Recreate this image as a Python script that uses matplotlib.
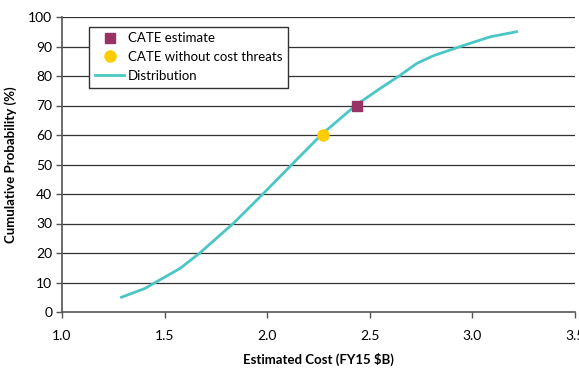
import matplotlib
matplotlib.use("Agg")
import matplotlib.pyplot as plt

# Distribution curve
cost = [1.29, 1.405, 1.462, 1.576, 1.673, 1.836, 1.982, 2.120, 2.267, 2.434,
        2.551, 2.649, 2.730, 2.811, 2.950, 3.088, 3.215]
prob = [5.0, 8.0, 10.3, 14.8, 20.1, 30.1, 40.2, 50.0, 60.3, 70.2,
        75.8, 80.3, 84.3, 86.9, 90.2, 93.3, 95.0]

cate_est = (2.44, 70)
cate_no_threats = (2.27, 60)

x_ticks = [1.0, 1.5, 2.0, 2.5, 3.0, 3.5]
y_ticks = list(range(0, 101, 10))

plt.rcParams["font.family"] = ["Lato", "DejaVu Sans"]

fig = plt.figure(figsize=(5.79, 3.68), dpi=100)
ax = fig.add_axes([62 / 579, 56 / 368, 513 / 579, 295 / 368])

for y in y_ticks[1:]:
    ax.axhline(y, color="#333333", lw=0.9, zorder=1)

ax.plot(*cate_est, marker="s", ls="none", color="#993366", ms=7,
        label="CATE estimate", zorder=4)
ax.plot(*cate_no_threats, marker="o", ls="none", color="#FFCC00", ms=8,
        label="CATE without cost threats", zorder=4)
ax.plot(cost, prob, color="#4BC6C6", lw=2, label="Distribution", zorder=3)

ax.set_xlim(1.0, 3.5)
ax.set_ylim(0, 100)
ax.set_xticks(x_ticks)
ax.set_xticklabels([f"{v:.1f}" for v in x_ticks])
ax.set_yticks(y_ticks)
ax.tick_params(direction="out", length=4, width=1, color="#555555",
               labelsize=10, pad=3)
ax.tick_params(axis="x", pad=9)
for s in ["top", "right"]:
    ax.spines[s].set_visible(False)
for s in ["left", "bottom"]:
    ax.spines[s].set_color("#555555")
    ax.spines[s].set_linewidth(1.2)

ax.set_xlabel("Estimated Cost (FY15 $B)", fontweight="bold", fontsize=9.5, labelpad=8)
ax.set_ylabel("Cumulative Probability (%)", fontweight="bold", fontsize=9.5, labelpad=8)

leg = ax.legend(loc="upper left", bbox_to_anchor=(0.04, 0.99), fontsize=9.5,
                frameon=True, fancybox=False, edgecolor="#333333",
                handlelength=2.2, borderpad=0.45, labelspacing=0.5,
                handletextpad=0.3)
leg.get_frame().set_linewidth(1.0)
leg.get_frame().set_alpha(1)

fig.savefig("out.png", dpi=100)
